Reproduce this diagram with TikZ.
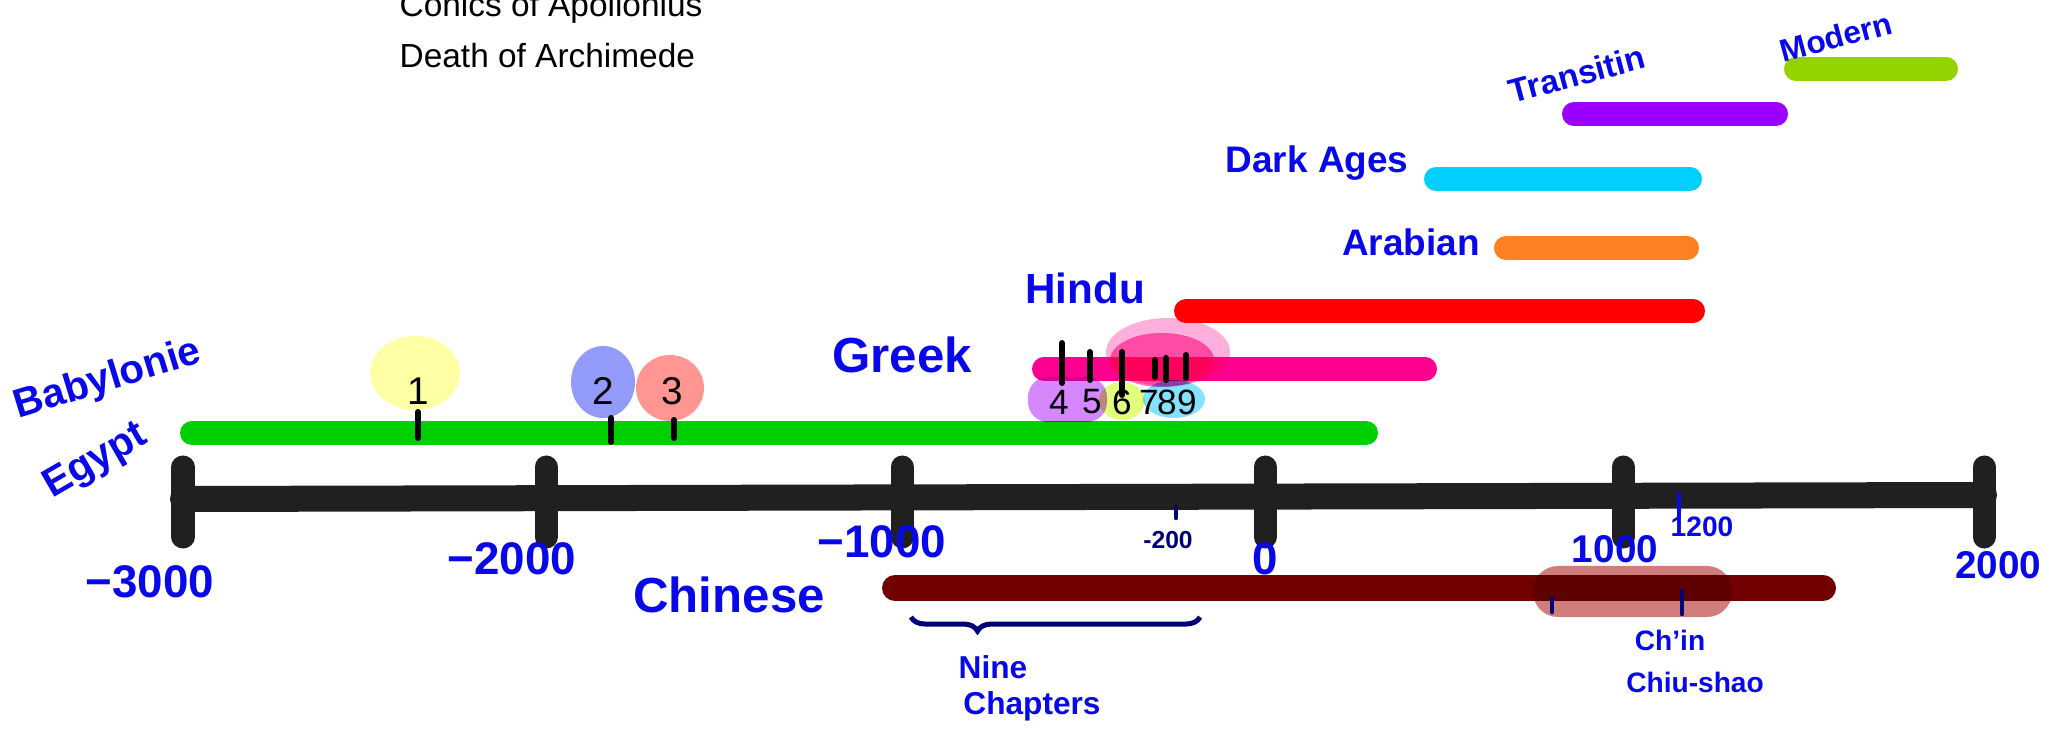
\documentclass[tikz,border=0pt]{standalone}
\usepackage{fontspec}
\setmainfont{Liberation Sans}
\usepackage{tikz}
\usetikzlibrary{positioning, decorations.pathreplacing}

\definecolor{penblue}{RGB}{8,8,232}
\definecolor{inkblue}{RGB}{0,0,120}
\definecolor{axisblack}{RGB}{32,32,32}
\definecolor{babgreen}{RGB}{0,208,0}
\definecolor{greekpink}{RGB}{255,0,145}
\definecolor{hindured}{RGB}{255,0,0}
\definecolor{araborange}{RGB}{255,128,32}
\definecolor{agescyan}{RGB}{0,208,255}
\definecolor{transpurple}{RGB}{155,0,255}
\definecolor{modgreen}{RGB}{148,210,0}
\definecolor{chinared}{RGB}{115,0,0}
\definecolor{chinahl}{RGB}{208,125,125}
\definecolor{blobyellow}{RGB}{255,255,165}
\definecolor{blobblue}{RGB}{146,155,250}
\definecolor{blobsalmon}{RGB}{255,150,145}
\definecolor{blobviolet}{RGB}{212,135,255}
\definecolor{bloblime}{RGB}{225,255,125}
\definecolor{blobsky}{RGB}{130,226,255}
\definecolor{cloudpink}{RGB}{255,110,190}
\definecolor{cloudlight}{RGB}{255,175,220}

\begin{document}
\begin{tikzpicture}[
    x=0.01cm, y=-0.01cm,
    era/.style={line width=2.4mm, line cap=round},
    axis/.style={axisblack, line width=2.6mm, line cap=round},
    yeartick/.style={axisblack, line width=2.3mm, line cap=round},
    stroke/.style={black, line width=0.6mm, line cap=round},
    fine/.style={inkblue, line width=0.45mm, line cap=round},
    blob/.style={blend mode=multiply},
    pen/.style={text=penblue, inner sep=0pt, font=\bfseries\fontsize{#1}{#1}\selectfont},
    digit/.style={text=black, inner sep=0pt, font=\fontsize{#1}{#1}\selectfont},
    note/.style={text=black, inner sep=0pt, anchor=west, font=\fontsize{9.5}{10}\selectfont}
]
\useasboundingbox (0,0) rectangle (2049,734);

% Notes at the top
\node[note] (conics) at (399,8) {Conics of Apollonius};
\node[note] (death) at (399,56) {Death of Archimede};

% Eras, one bar each
\draw[era, modgreen] (1796,69) -- (1946,69);
\draw[era, transpurple] (1574,114) -- (1776,114);
\draw[era, agescyan] (1436,179) -- (1690,179);
\draw[era, araborange] (1506,248) -- (1687,248);
\draw[era, hindured] (1186,311) -- (1693,311);
\draw[era, greekpink] (1044,369) -- (1425,369);
\draw[era, babgreen] (192,433) -- (1366,433);
\draw[era, chinared, line width=2.6mm] (895,588) -- (1823,588);

\node[pen=9, rotate=15] (modern) at (1836,37) {Modern};
\node[pen=9.5, rotate=15] (transition) at (1577,74) {Transitin};
\node[pen=10.5] (darkages) at (1317,163) {Dark Ages};
\node[pen=10.5] (arabian) at (1411,242) {Arabian};
\node[pen=12] (hindu) at (1085,288) {Hindu};
\node[pen=14] (greek) at (902,355) {Greek};
\node[pen=11.5, rotate=17] (babylonia) at (108,380) {Babylonie};
\node[pen=11.5, rotate=30] (egypt) at (96,462) {Egypt};
\node[pen=14] (chinese) at (729,595) {Chinese};

% Events on the Babylonian bar
\fill[blob, blobyellow] (415,373) ellipse [x radius=45, y radius=37];
\fill[blob, blobblue] (603,382) ellipse [x radius=32, y radius=36];
\fill[blob, blobsalmon] (670,388) ellipse [x radius=34, y radius=33];
\foreach \x/\n in {418/1, 603/2, 672/3}
    \node[digit=11] (ev\n) at (\x,391) {\n};
\draw[stroke] (418,412) -- (418,438);
\draw[stroke] (611,418) -- (611,442);
\draw[stroke] (674,420) -- (674,438);

% Events on the Greek bar
\fill[blob, cloudlight] (1168,352) ellipse [x radius=62, y radius=34];
\fill[blob, cloudpink] (1162,360) ellipse [x radius=52, y radius=27];
\fill[blob, blobviolet, rounded corners=0.2cm] (1028,377) rectangle (1107,422);
\fill[blob, bloblime] (1122,401) ellipse [x radius=23, y radius=19];
\fill[blob, blobsky] (1174,399) ellipse [x radius=31, y radius=19];
\foreach \x/\n in {1059/4, 1092/5, 1122/6, 1149/7, 1167/8, 1187/9}
    \node[digit=10] (ev\n) at (\x,402) {\n};
\foreach \x/\a/\b in {1062/343/383, 1090/352/380, 1122/352/395, 1155/360/377, 1166/358/380, 1186/355/378}
    \draw[stroke] (\x,\a) -- (\x,\b);

% Time axis
\draw[axis] (183,499) -- (1984,495);
\foreach \x/\lx/\ly/\fs/\yr [count=\i] in {183/150/582/13/−3000, 546/512/559/13/−2000,
        902/882/542/13/−1000, 1265/1265/559/13/0, 1623/1615/549/11/1000, 1984/1998/565/11/2000}{
    \draw[yeartick] (\x,467) -- (\x,537);
    \node[pen=\fs] (yr\i) at (\lx,\ly) {\yr};
}
\draw[fine] (1176,507) -- (1176,518);
\node[text=inkblue, font=\bfseries\fontsize{7}{7}\selectfont] (yrm200) at (1168,540) {-200};
\draw[fine, penblue] (1679,494) -- (1679,516);
\node[pen=8] (yr1200) at (1702,527) {1200};

% Chinese works
\fill[blob, chinahl, rounded corners=0.25cm] (1533,566) rectangle (1732,617);
\draw[fine] (1552,599) -- (1552,612);
\draw[fine] (1682,591) -- (1682,614);
\node[pen=8] (chin) at (1670,640) {Ch'in};
\node[pen=8] (chiushao) at (1695,682) {Chiu-shao};
\draw[inkblue, line width=0.5mm, decorate,
      decoration={brace, mirror, amplitude=4pt, aspect=0.23}] (911,617) -- (1200,617);
\node[pen=9] (nine) at (993,667) {Nine};
\node[pen=9] (chapters) at (1032,706) {Chapters};

\end{tikzpicture}
\end{document}
